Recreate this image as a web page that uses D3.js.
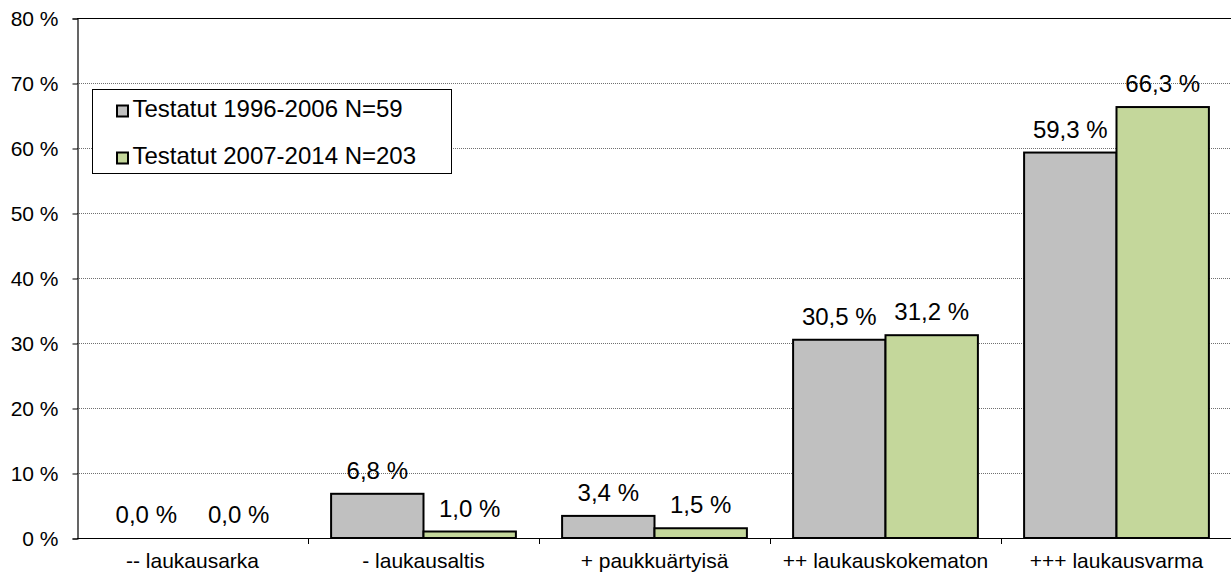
<!DOCTYPE html>
<html>
<head>
<meta charset="utf-8">
<script src="https://cdn.jsdelivr.net/npm/d3@7"></script>
<style>
  body { margin: 0; background: #fff; }
  svg { display: block; font-family: "Liberation Sans", Arial, sans-serif; }
</style>
</head>
<body>
<svg></svg>
<script>
const categories = ['-- laukausarka', '- laukausaltis', '+ paukkuärtyisä', '++ laukauskokematon', '+++ laukausvarma']
const seriesNames = ['Testatut 1996-2006 N=59', 'Testatut 2007-2014 N=203']
const values1 = [0.0, 6.8, 3.4, 30.5, 59.3]
const values2 = [0.0, 1.0, 1.5, 31.2, 66.3]
const yTicks = [0, 10, 20, 30, 40, 50, 60, 70, 80]

const colors = ['#c0c0c0', '#c4d79b']

const w = 1231
const h = 575
const pLeft = 77
const pRight = 1232
const pTop = 18
const pBottom = 538

let svg = d3.select('svg')
    .attr('width', w)
    .attr('height', h)

let xScale = d3.scaleBand()
    .domain(categories)
    .range([pLeft, pRight])
    .paddingInner(0.2)
    .paddingOuter(0.1)

let edgeScale = d3.scaleBand()
    .domain(categories)
    .range([pLeft, pRight])

let subScale = d3.scaleBand()
    .domain([0, 1])
    .range([0, xScale.bandwidth()])

let yScale = d3.scaleLinear()
    .domain([0, 80])
    .range([pBottom, pTop])

// gridlines
svg.append('g')
    .selectAll('line')
    .data(yTicks.filter(d => d > 0 && d < 80))
    .enter()
    .append('line')
    .attr('x1', pLeft)
    .attr('x2', w)
    .attr('y1', d => yScale(d) + 0.5)
    .attr('y2', d => yScale(d) + 0.5)
    .attr('stroke', '#707070')
    .attr('stroke-width', 1)
    .attr('stroke-dasharray', '1,1')

// top border of plot area
svg.append('line')
    .attr('x1', pLeft).attr('x2', w)
    .attr('y1', yScale(80) + 0.5).attr('y2', yScale(80) + 0.5)
    .attr('stroke', '#000')
    .attr('stroke-width', 1.2)

// y axis
let yAxis = d3.axisLeft(yScale)
    .tickValues(yTicks)
    .tickSize(5)
    .tickPadding(14)
    .tickFormat(d => d + ' %')

let yg = svg.append('g')
    .attr('transform', 'translate(' + (pLeft + 0.5) + ', 0.5)')
    .call(yAxis)
yg.select('.domain').attr('stroke', '#000').attr('stroke-width', 1.2)
yg.selectAll('.tick line').attr('stroke', '#000')
yg.selectAll('.tick text')
    .style('font-size', '21px')
    .attr('fill', '#000')
    .attr('font-family', '"Liberation Sans", Arial, sans-serif')

// bars
let data = categories.map((c, i) => ({ cat: c, vals: [values1[i], values2[i]] }))

let groups = svg.append('g')
    .selectAll('g')
    .data(data)
    .enter()
    .append('g')
    .attr('transform', d => 'translate(' + xScale(d.cat) + ', 0)')

groups.selectAll('rect')
    .data(d => d.vals.map((v, s) => ({ v: v, s: s })).filter(d => d.v > 0))
    .enter()
    .append('rect')
    .attr('x', d => subScale(d.s))
    .attr('width', subScale.bandwidth())
    .attr('y', d => yScale(d.v))
    .attr('height', d => pBottom - yScale(d.v))
    .attr('fill', d => colors[d.s])
    .attr('stroke', '#000')
    .attr('stroke-width', 2)

groups.selectAll('text')
    .data(d => d.vals.map((v, s) => ({ v: v, s: s })))
    .enter()
    .append('text')
    .attr('x', d => subScale(d.s) + subScale.bandwidth() / 2)
    .attr('y', d => yScale(d.v) - 15)
    .attr('text-anchor', 'middle')
    .style('font-size', '24px')
    .text(d => d.v.toFixed(1).replace('.', ',') + ' %')

// x axis
svg.append('line')
    .attr('x1', pLeft).attr('x2', w)
    .attr('y1', pBottom + 0.5).attr('y2', pBottom + 0.5)
    .attr('stroke', '#000')
    .attr('stroke-width', 1.2)

svg.append('g')
    .selectAll('line')
    .data(categories.slice(1))
    .enter()
    .append('line')
    .attr('x1', d => edgeScale(d) + 0.5)
    .attr('x2', d => edgeScale(d) + 0.5)
    .attr('y1', pBottom)
    .attr('y2', pBottom + 6)
    .attr('stroke', '#000')

svg.append('g')
    .selectAll('text')
    .data(categories)
    .enter()
    .append('text')
    .attr('x', d => edgeScale(d) + edgeScale.bandwidth() / 2)
    .attr('y', 568)
    .attr('text-anchor', 'middle')
    .style('font-size', '21px')
    .text(d => d)

// legend
let legend = svg.append('g')
    .attr('transform', 'translate(92.5, 89.5)')

legend.append('rect')
    .attr('width', 359)
    .attr('height', 84)
    .attr('fill', '#fff')
    .attr('stroke', '#000')
    .attr('stroke-width', 1)

let items = legend.selectAll('g')
    .data(seriesNames)
    .enter()
    .append('g')
    .attr('transform', (d, i) => 'translate(0,' + (i * 47) + ')')

items.append('rect')
    .attr('x', 24.5)
    .attr('y', 16)
    .attr('width', 11)
    .attr('height', 11)
    .attr('fill', (d, i) => colors[i])
    .attr('stroke', '#000')
    .attr('stroke-width', 2)

items.append('text')
    .attr('x', 40)
    .attr('y', 27.5)
    .style('font-size', '24px')
    .text(d => d)
</script>
</body>
</html>
